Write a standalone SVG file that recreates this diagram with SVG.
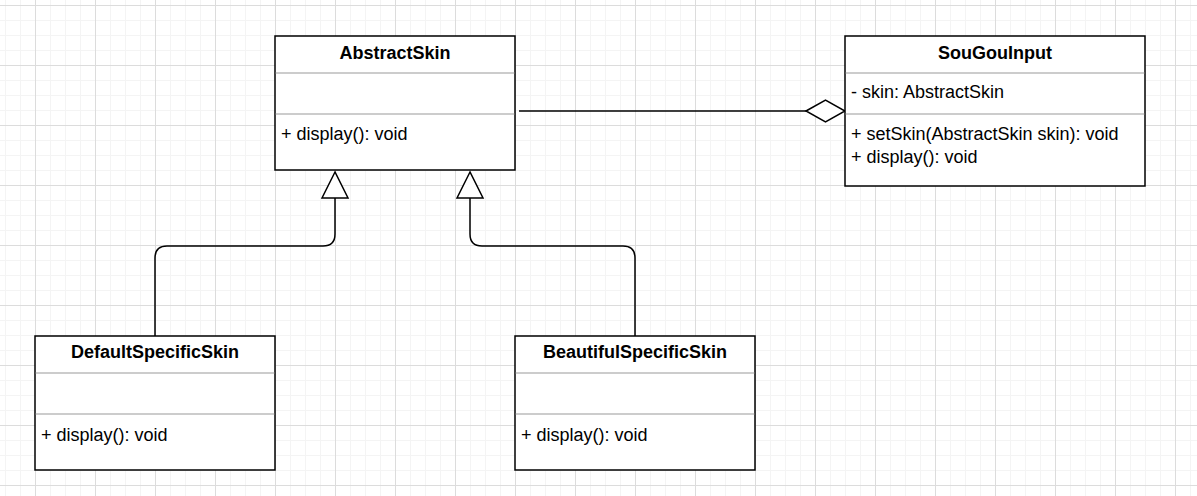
<svg xmlns="http://www.w3.org/2000/svg" width="1197" height="496" viewBox="0 0 1197 496">
<defs>
<pattern id="minor" x="5" y="5" width="15" height="15" patternUnits="userSpaceOnUse">
<path d="M0 0.5 H15 M0.5 0 V15" fill="none" stroke="#f4f4f4" stroke-width="1"/>
</pattern>
<pattern id="major" x="35" y="5" width="60" height="60" patternUnits="userSpaceOnUse">
<path d="M0 0.5 H60 M0.5 0 V60" fill="none" stroke="#dcdcdc" stroke-width="1"/>
</pattern>
<style>
.box{fill:#fff;stroke:#000;stroke-width:1.5}
.sep{stroke:#999;stroke-width:1}
.title{font-family:"Liberation Sans",Arial,sans-serif;font-size:18px;font-weight:bold;fill:#000;text-anchor:middle}
.mem{font-family:"Liberation Sans",Arial,sans-serif;font-size:18px;fill:#000}
.edge{fill:none;stroke:#000;stroke-width:1.5}
.head{fill:#fff;stroke:#000;stroke-width:1.5}
</style>
</defs>
<rect width="1197" height="496" fill="#fff"/>
<rect width="1197" height="496" fill="url(#minor)"/>
<rect width="1197" height="496" fill="url(#major)"/>

<g id="connectors">
<path class="edge" d="M335 198 V234 Q335 246 323 246 H167 Q155 246 155 258 V336"/>
<polygon class="head" points="335,172 322,198 348,198"/>
<path class="edge" d="M470 198 V234 Q470 246 482 246 H623 Q635 246 635 258 V336"/>
<polygon class="head" points="470,172 457,198 483,198"/>
<path class="edge" d="M519 111 H806"/>
<polygon class="head" points="806,111 825.5,100 845,111 825.5,122"/>
</g>

<g id="AbstractSkin">
<rect class="box" x="275" y="36" width="240" height="134"/>
<line class="sep" x1="275.5" y1="73" x2="514.5" y2="73"/>
<line class="sep" x1="275.5" y1="114" x2="514.5" y2="114"/>
<text class="title" x="395" y="59">AbstractSkin</text>
<text class="mem" x="281" y="140">+ display(): void</text>
</g>

<g id="SouGouInput">
<rect class="box" x="845" y="36" width="300" height="150"/>
<line class="sep" x1="845.5" y1="73" x2="1144.5" y2="73"/>
<line class="sep" x1="845.5" y1="114" x2="1144.5" y2="114"/>
<text class="title" x="995" y="59">SouGouInput</text>
<text class="mem" x="851" y="98">- skin: AbstractSkin</text>
<text class="mem" x="851" y="140">+ setSkin(AbstractSkin skin): void</text>
<text class="mem" x="851" y="163">+ display(): void</text>
</g>

<g id="DefaultSpecificSkin">
<rect class="box" x="35" y="336" width="240" height="134"/>
<line class="sep" x1="35.5" y1="373" x2="274.5" y2="373"/>
<line class="sep" x1="35.5" y1="414" x2="274.5" y2="414"/>
<text class="title" x="155" y="358">DefaultSpecificSkin</text>
<text class="mem" x="41" y="441">+ display(): void</text>
</g>

<g id="BeautifulSpecificSkin">
<rect class="box" x="515" y="336" width="240" height="134"/>
<line class="sep" x1="515.5" y1="373" x2="754.5" y2="373"/>
<line class="sep" x1="515.5" y1="414" x2="754.5" y2="414"/>
<text class="title" x="635" y="358">BeautifulSpecificSkin</text>
<text class="mem" x="521" y="441">+ display(): void</text>
</g>
</svg>
